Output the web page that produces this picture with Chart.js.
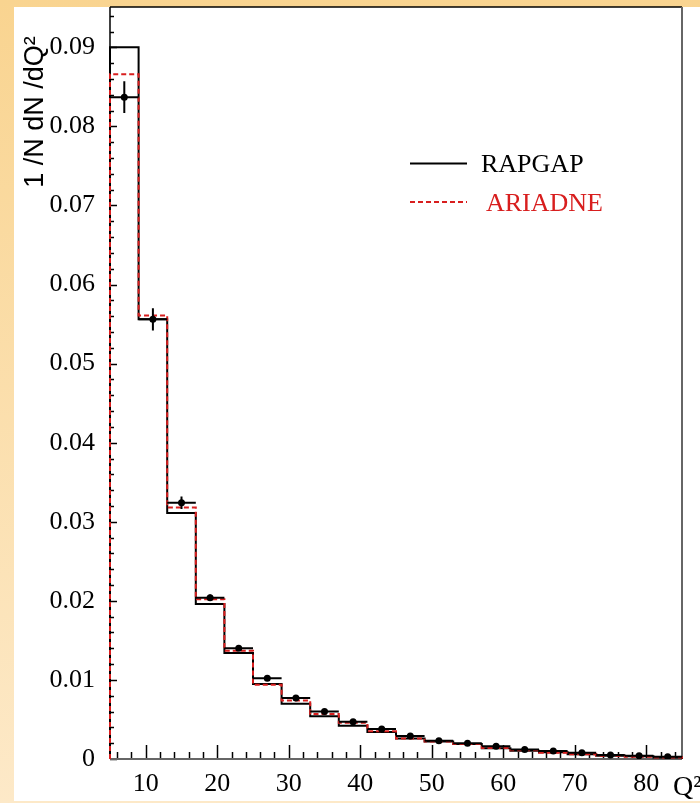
<!DOCTYPE html>
<html>
<head>
<meta charset="utf-8">
<script src="https://cdn.jsdelivr.net/npm/chart.js@4.4.0/dist/chart.umd.min.js"></script>
<style>
  html, body { margin: 0; padding: 0; }
  body {
    width: 700px; height: 803px; position: relative; overflow: hidden;
    background: linear-gradient(to bottom, #f9d490, #fde9c8);
  }
  #panel { position: absolute; left: 14px; top: 7px; width: 686px; height: 794px; background: #fff; }
  #chart { position: absolute; left: 0; top: 0; }
</style>
</head>
<body>
<div id="panel"></div>
<canvas id="chart" width="700" height="803"></canvas>
<script>
// bin edges in Q^2
const binEdges = [5, 9, 13, 17, 21, 25, 29, 33, 37, 41, 45, 49, 53, 57, 61, 65, 69, 73, 77, 81, 85];

const rapgap = [0.0900, 0.0556, 0.0311, 0.0196, 0.0134, 0.0095, 0.0070, 0.0054, 0.0042, 0.0034,
                0.0026, 0.0022, 0.0019, 0.00135, 0.00105, 0.00085, 0.0006, 0.0004, 0.00035, 0.0002];
const ariadne = [0.0866, 0.0561, 0.0318, 0.0202, 0.0137, 0.0094, 0.0074, 0.0057, 0.0046, 0.0035,
                 0.0026, 0.0022, 0.0019, 0.0014, 0.0011, 0.0008, 0.0006, 0.0004, 0.0003, 0.0002];
const dataVals = [0.0837, 0.0556, 0.0324, 0.0204, 0.0140, 0.0102, 0.0077, 0.0060, 0.0047, 0.0038,
                  0.0029, 0.0023, 0.0020, 0.0016, 0.0012, 0.0010, 0.0008, 0.0005, 0.0004, 0.0003];
const dataErr = [0.0020, 0.0014, 0.0008, 0.0004, 0.0003, 0.0002, 0.0002, 0.00015, 0.00015, 0.0001,
                 0.0001, 0.0001, 0.0001, 0.0001, 0.0001, 0.0001, 0.0001, 0.0001, 0.0001, 0.0001];

const xTicks = [10, 20, 30, 40, 50, 60, 70, 80];
const yTicks = [0, 0.01, 0.02, 0.03, 0.04, 0.05, 0.06, 0.07, 0.08, 0.09];
const xMin = 5, xMax = 85, yMin = 0, yMax = 0.0951;
const xMinorStep = 2, yMinorStep = 0.002;

const RED = '#d81e1e';

function stepPoints(vals) {
  const last = binEdges.length - 1;
  const pts = [{x: binEdges[0], y: 0}];
  vals.forEach((v, i) => pts.push({x: binEdges[i], y: v}));
  pts.push({x: binEdges[last], y: vals[vals.length - 1]});
  pts.push({x: binEdges[last], y: 0});
  return pts;
}

const centers = binEdges.slice(0, -1).map((e, i) => (e + binEdges[i + 1]) / 2);

// axes lines, inward ticks, frame
const framePlugin = {
  id: 'framePlugin',
  beforeDatasetsDraw(chart) {
    const {ctx, chartArea: a, scales: {x, y}} = chart;
    ctx.save();
    ctx.strokeStyle = '#000';
    ctx.lineWidth = 1.5;
    for (let i = 0; i * yMinorStep <= yMax; i++) {
      const py = Math.round(y.getPixelForValue(i * yMinorStep)) + 0.5;
      const len = i % 5 === 0 ? 7 : 4;
      ctx.beginPath(); ctx.moveTo(a.left, py); ctx.lineTo(a.left + len, py); ctx.stroke();
    }
    for (let v = xMin + 1; v < xMax; v += xMinorStep) {
      const px = Math.round(x.getPixelForValue(v)) + 0.5;
      const len = v % 10 === 0 ? 14 : 7;
      ctx.beginPath(); ctx.moveTo(px, a.bottom); ctx.lineTo(px, a.bottom - len); ctx.stroke();
    }
    // top border
    ctx.lineWidth = 1.5;
    ctx.beginPath(); ctx.moveTo(a.left, a.top); ctx.lineTo(a.right, a.top); ctx.stroke();
    // left axis
    ctx.beginPath(); ctx.moveTo(a.left, a.top); ctx.lineTo(a.left, a.bottom); ctx.stroke();
    // right and bottom in grey
    ctx.strokeStyle = '#666';
    ctx.lineWidth = 2;
    ctx.beginPath(); ctx.moveTo(a.right, a.top); ctx.lineTo(a.right, a.bottom); ctx.stroke();
    ctx.beginPath(); ctx.moveTo(a.left, a.bottom); ctx.lineTo(a.right, a.bottom); ctx.stroke();
    ctx.restore();
  },
  afterDatasetsDraw(chart) {
    const {ctx, scales: {x, y}} = chart;
    ctx.save();
    ctx.strokeStyle = '#000';
    ctx.lineWidth = 2;
    dataVals.forEach((v, i) => {
      const py = y.getPixelForValue(v);
      const px = x.getPixelForValue(centers[i]);
      ctx.beginPath();
      ctx.moveTo(x.getPixelForValue(binEdges[i]), py);
      ctx.lineTo(x.getPixelForValue(binEdges[i + 1]), py);
      ctx.moveTo(px, y.getPixelForValue(v - dataErr[i]));
      ctx.lineTo(px, y.getPixelForValue(v + dataErr[i]));
      ctx.stroke();
    });
    ctx.restore();
  },
  afterDraw(chart) {
    const {ctx} = chart;
    ctx.save();
    // legend
    ctx.lineWidth = 2;
    ctx.strokeStyle = '#000';
    ctx.beginPath(); ctx.moveTo(410, 163.5); ctx.lineTo(467, 163.5); ctx.stroke();
    ctx.strokeStyle = RED;
    ctx.setLineDash([5, 3]);
    ctx.beginPath(); ctx.moveTo(410, 202); ctx.lineTo(467, 202); ctx.stroke();
    ctx.setLineDash([]);
    ctx.font = '26px "Liberation Serif"';
    ctx.textBaseline = 'alphabetic';
    ctx.fillStyle = '#000';
    ctx.fillText('RAPGAP', 481, 172);
    ctx.fillStyle = RED;
    ctx.fillText('ARIADNE', 486, 211);
    // x title
    ctx.fillStyle = '#000';
    ctx.font = '28px "Liberation Serif"';
    ctx.fillText('Q²', 673, 795);
    // y title
    ctx.translate(43, 112);
    ctx.rotate(-Math.PI / 2);
    ctx.textAlign = 'center';
    ctx.font = '27px "Liberation Sans"';
    ctx.fillText('1 /N dN /dQ²', 0, 0);
    ctx.restore();
  }
};

const tickFont = {family: '"Liberation Serif"', size: 26};

new Chart(document.getElementById('chart'), {
  type: 'line',
  data: {
    datasets: [
      {
        type: 'scatter',
        label: 'Data',
        data: dataVals.map((v, i) => ({x: centers[i], y: v})),
        pointRadius: 3.5,
        pointBackgroundColor: '#000',
        pointBorderWidth: 0,
        showLine: false,
        order: 0
      },
      {
        label: 'ARIADNE',
        data: stepPoints(ariadne),
        stepped: true,
        borderColor: RED,
        borderWidth: 2,
        borderDash: [5, 3],
        pointRadius: 0,
        fill: false,
        clip: 4,
        order: 1
      },
      {
        label: 'RAPGAP',
        data: stepPoints(rapgap),
        stepped: true,
        borderColor: '#000',
        borderWidth: 2,
        pointRadius: 0,
        fill: false,
        clip: 4,
        order: 2
      }
    ]
  },
  options: {
    responsive: false,
    animation: false,
    devicePixelRatio: 1,
    layout: {padding: {top: 7, right: 18, left: 0, bottom: 0}},
    plugins: {legend: {display: false}, tooltip: {enabled: false}},
    scales: {
      x: {
        type: 'linear',
        min: xMin, max: xMax,
        grid: {display: false, drawTicks: false},
        border: {display: false},
        afterBuildTicks: s => { s.ticks = xTicks.map(v => ({value: v})); },
        afterFit: s => { s.height = 44; s.paddingLeft = s.paddingRight = 0; },
        ticks: {color: '#000', font: tickFont, padding: 10, maxRotation: 0,
                callback: v => String(v)}
      },
      y: {
        type: 'linear',
        min: yMin, max: yMax,
        grid: {display: false, drawTicks: false},
        border: {display: false},
        afterBuildTicks: s => { s.ticks = yTicks.map(v => ({value: v})); },
        afterFit: s => { s.width = 110; s.paddingTop = s.paddingBottom = 0; },
        ticks: {color: '#000', font: tickFont, padding: 15,
                callback: v => v === 0 ? '0' : v.toFixed(2)}
      }
    }
  },
  plugins: [framePlugin]
});
</script>
</body>
</html>
